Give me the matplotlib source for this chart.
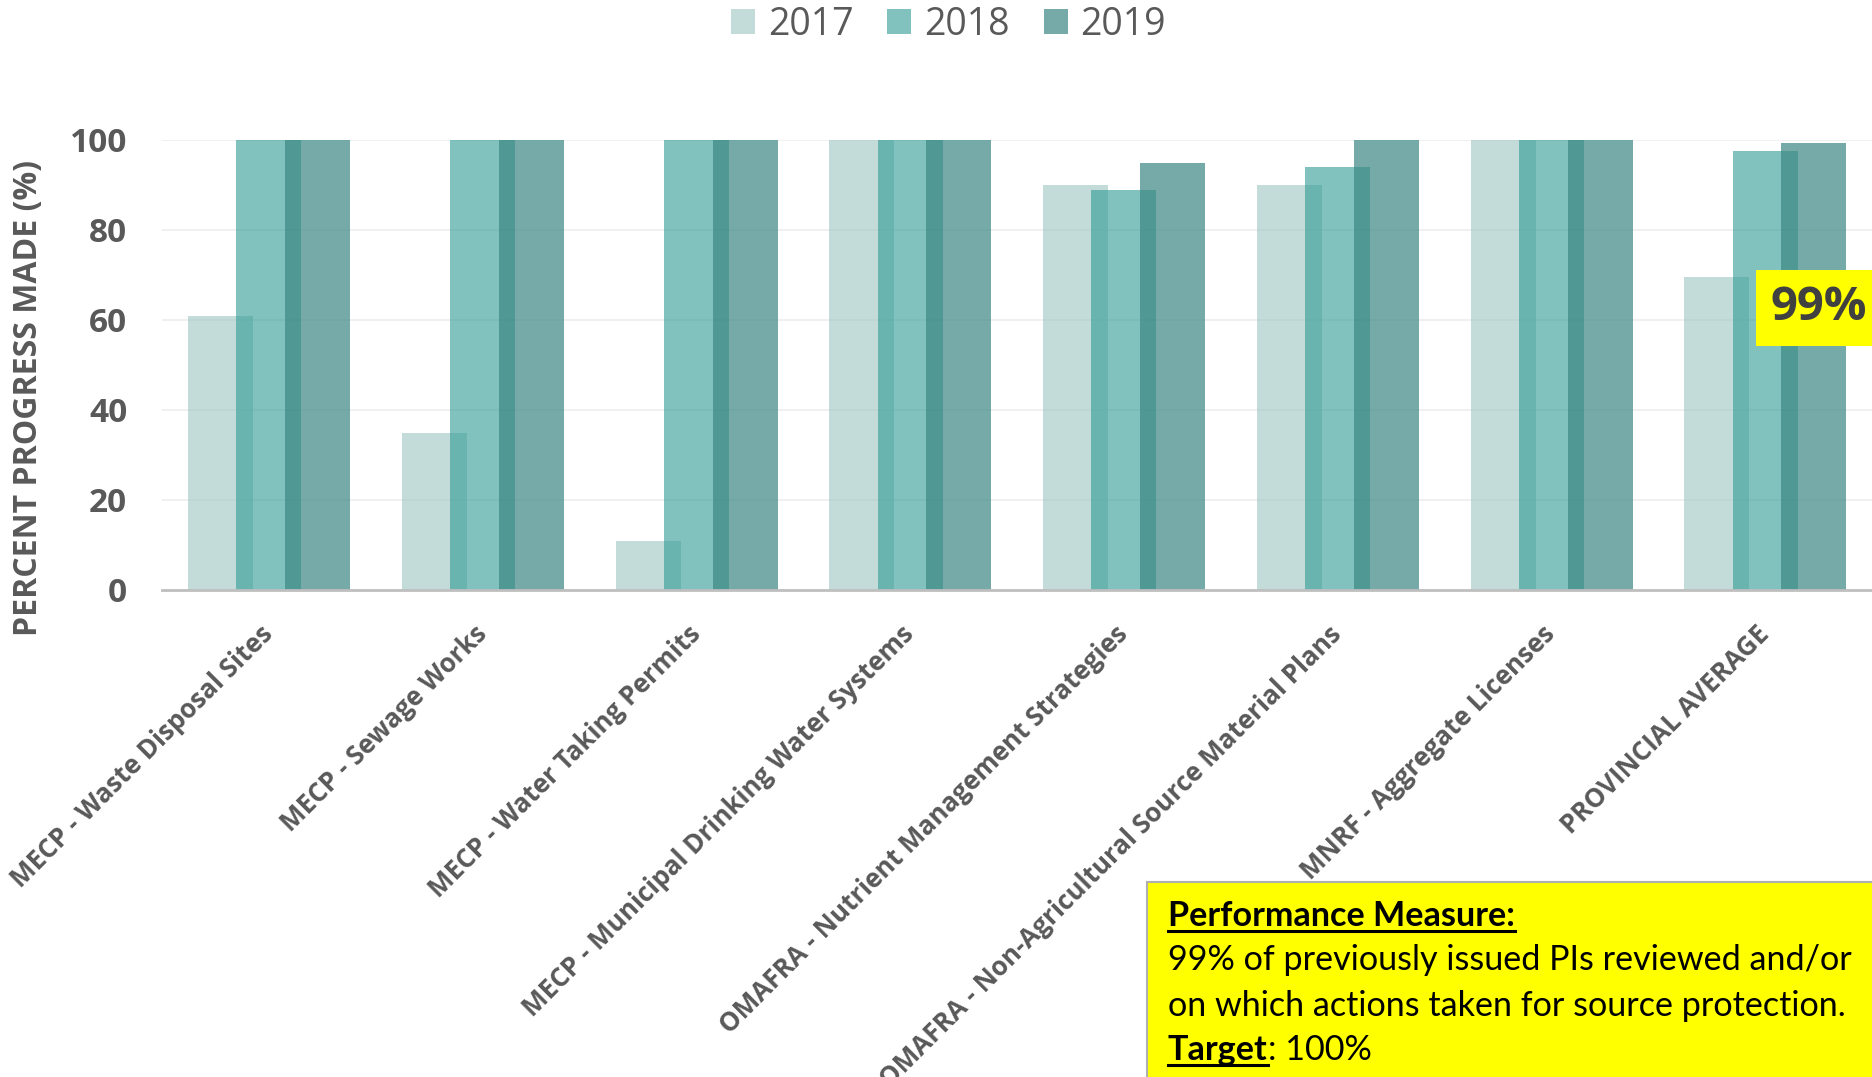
import matplotlib
matplotlib.use("Agg")
import matplotlib.pyplot as plt
from matplotlib.patches import Rectangle
from matplotlib.lines import Line2D
import numpy as np

# data
categories = ["MECP - Waste Disposal Sites", "MECP - Sewage Works",
              "MECP - Water Taking Permits", "MECP - Municipal Drinking Water Systems",
              "OMAFRA - Nutrient Management Strategies",
              "OMAFRA - Non-Agricultural Source Material Plans",
              "MNRF - Aggregate Licenses", "PROVINCIAL AVERAGE"]
years = ["2017", "2018", "2019"]
v2017 = [61, 35, 11, 100, 90, 90, 100, 69.5]
v2018 = [100, 100, 100, 100, 89, 94, 100, 97.6]
v2019 = [100, 100, 100, 100, 95, 100, 100, 99.3]
yticks = [0, 20, 40, 60, 80, 100]

# translucent colours so the overlaps darken like the original
colors = [(155/255, 197/255, 192/255, 0.6),
          (55/255, 157/255, 152/255, 0.633),
          (58/255, 135/255, 131/255, 0.7)]
offsets = [-0.226, 0.0, 0.228]
bar_w = 0.304

plt.rcParams['font.family'] = ['Open Sans', 'DejaVu Sans']
grey = '#595959'

W, H = 1872, 1077
fig = plt.figure(figsize=(W / 100, H / 100), dpi=100)
ax = fig.add_axes([162 / W, 487 / H, 1710 / W, 450 / H])

x = np.arange(len(categories))
handles = []
for vals, off, col in zip([v2017, v2018, v2019], offsets, colors):
    b = ax.bar(x + off, vals, width=bar_w, color=col, linewidth=0)
    handles.append(b)

ax.set_xlim(-0.5, 7.5)
ax.set_ylim(0, 100)
ax.set_yticks(yticks)
ax.yaxis.grid(True, color='#EEEEEE', linewidth=1.2)
ax.set_axisbelow(True)
for s in ['top', 'right', 'left']:
    ax.spines[s].set_visible(False)
ax.spines['bottom'].set_color('#BFBFBF')
ax.spines['bottom'].set_linewidth(2)
ax.tick_params(axis='y', length=0, pad=25, labelsize=24, labelcolor=grey)
ax.tick_params(axis='x', length=0, pad=29)
for lab in ax.get_yticklabels():
    lab.set_fontweight('bold')

ax.set_xticks(x)
ax.set_xticklabels(categories, rotation=45, ha='right', va='center',
                   rotation_mode='anchor', fontsize=18.7, fontweight='bold',
                   color=grey)

fig.text(29 / W, 1 - 397.5 / H, "PERCENT PROGRESS MADE (%)", rotation=90,
         ha='center', va='center', fontsize=23, fontweight='bold', color=grey)

fig.legend(handles, years, loc='center', bbox_to_anchor=(948.5 / W, 1 - 25 / H),
           ncol=3, frameon=False, fontsize=27, handlelength=0.64, handleheight=0.64,
           handletextpad=0.34, columnspacing=0.9, borderpad=0, labelcolor=grey)

# highlighted average label
fig.text(1771 / W, 1 - 308 / H, "99%", fontsize=34, fontweight='bold',
         color='#404040', ha='left', va='center',
         bbox=dict(facecolor='#FFFF00', edgecolor='none', pad=10.5))

# performance measure box (runs off the bottom right corner)
fig.add_artist(Rectangle((1147 / W, -0.01), 0.5, (1077 - 882) / H + 0.01,
                         transform=fig.transFigure, facecolor='#FFFF00',
                         edgecolor='#AFAFAF', linewidth=1.5))

box_font = 'Lato'
tx = 1168 / W
baselines = [926, 970, 1016, 1060]
fs = 21
t1 = fig.text(tx, 1 - baselines[0] / H, "Performance Measure:", fontsize=fs,
              fontweight='bold', family=box_font, va='baseline')
t2 = fig.text(tx, 1 - baselines[1] / H, "99% of previously issued PIs reviewed and/or",
              fontsize=fs, family=box_font, va='baseline')
t3 = fig.text(tx, 1 - baselines[2] / H, "on which actions taken for source protection.",
              fontsize=fs, family=box_font, va='baseline')
t4 = fig.text(tx, 1 - baselines[3] / H, "Target", fontsize=fs, fontweight='bold',
              family=box_font, va='baseline')

fig.canvas.draw()
r = fig.canvas.get_renderer()
# scale box text so the long line spans the width of the original
w2 = t2.get_window_extent(r).width
fs = fs * 683 / w2
for t in (t1, t2, t3, t4):
    t.set_fontsize(fs)
fig.canvas.draw()

bb4 = t4.get_window_extent(r)
fig.text(bb4.x1 / W, 1 - baselines[3] / H, ": 100%", fontsize=fs, family=box_font,
         va='baseline')
for t, base in ((t1, baselines[0]), (t4, baselines[3])):
    bb = t.get_window_extent(r)
    yy = 1 - (base + 5) / H
    fig.add_artist(Line2D([bb.x0 / W, bb.x1 / W], [yy, yy], color='black',
                          linewidth=2.2, transform=fig.transFigure))

fig.savefig("out.png", dpi=100)
